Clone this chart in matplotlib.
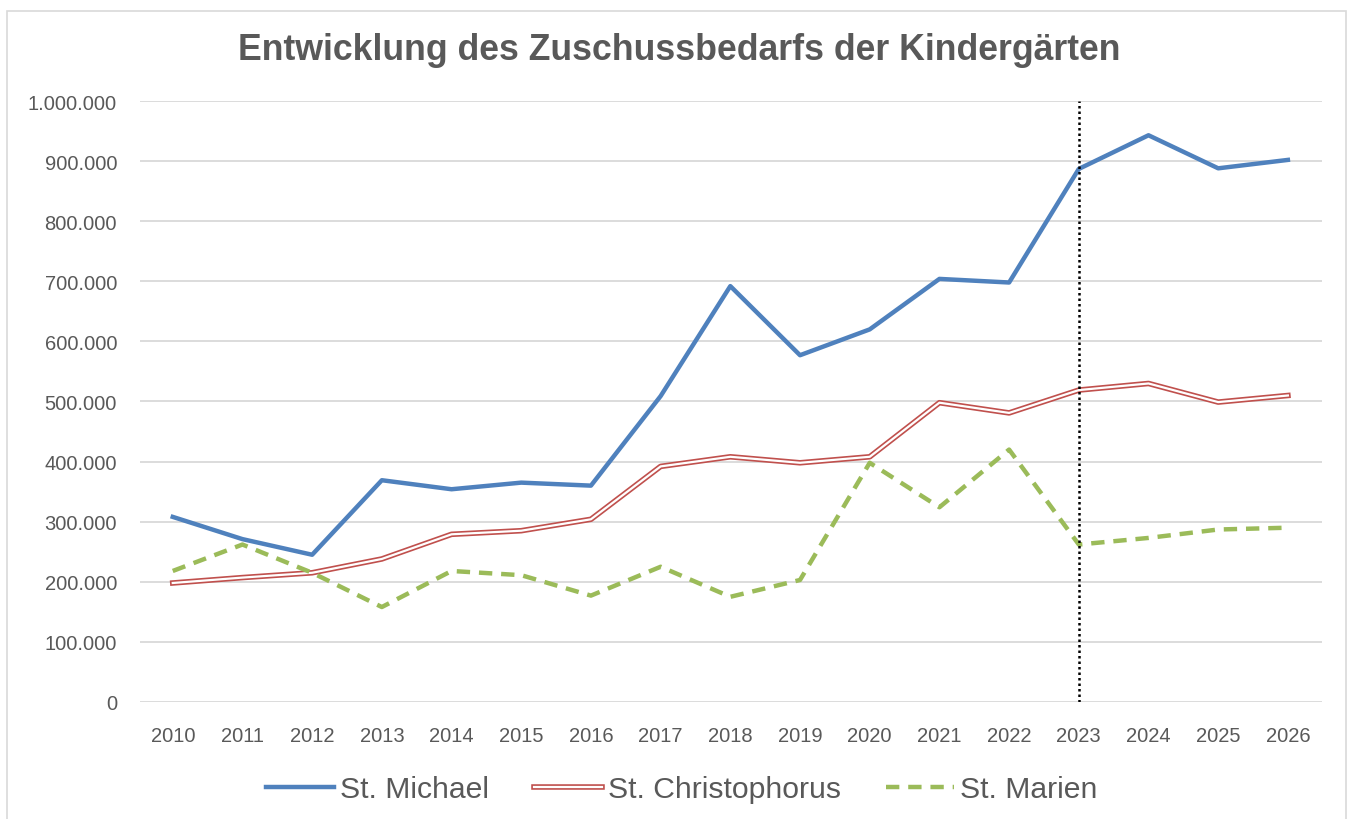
import numpy as np
import matplotlib.pyplot as plt
from matplotlib.patches import Rectangle
import matplotlib.patheffects as pe

plt.rcParams['font.family'] = ['Liberation Sans', 'DejaVu Sans']

years = list(range(2010, 2027))
michael = [308000, 271000, 245000, 369000, 354000, 365000, 360000, 509000, 692000,
           577000, 620000, 704000, 698000, 887000, 943000, 888000, 902000]
christophorus = [198000, 207000, 215000, 238000, 279000, 285000, 304000, 392000, 408000,
                 398000, 408000, 498000, 481000, 519000, 530000, 499000, 510000]
marien = [218000, 262000, 215000, 158000, 218000, 211000, 177000, 225000, 175000,
          203000, 398000, 324000, 420000, 262000, 273000, 287000, 290000]
labels = ['St. Michael', 'St. Christophorus', 'St. Marien']
title = 'Entwicklung des Zuschussbedarfs der Kindergärten'
grey = '#595959'

fig = plt.figure(figsize=(13.54, 8.2), dpi=100)
ax = fig.add_axes([0.1034, 0.1427, 0.873, 0.7329])

# rahmen um das diagramm
fig.patches.append(Rectangle((0.005, -0.01), 0.989, 0.995, transform=fig.transFigure,
                             fill=False, edgecolor='#D9D9D9', lw=1.2))

ax.plot(years, michael, color='#4F81BD', lw=3.2, label=labels[0], zorder=3)
# doppellinie: rot dick, weiss duenn darueber
ax.plot(years, christophorus, color='#C0504D', lw=4.0, label=labels[1], zorder=3,
        path_effects=[pe.Stroke(linewidth=4.0, foreground='#C0504D'),
                      pe.Stroke(linewidth=1.6, foreground='white')])
ax.plot(years, marien, color='#9BBB59', lw=3.2, ls=(0, (3, 2)), label=labels[2], zorder=3)
ax.vlines(2023, 0, 1000000, colors='black', linestyles=(0, (1, 1.2)), lw=1.8, zorder=4)

ax.set_xlim(2009.53, 2026.49)
ax.set_ylim(0, 1000000)
ax.set_xticks(years)
ax.set_yticks(np.arange(0, 1000001, 100000))
ax.set_yticklabels(['0'] + [f'{v:,}'.replace(',', '.') for v in range(100000, 1000001, 100000)])
ax.tick_params(length=0, labelsize=14.5, colors=grey)
ax.tick_params(axis='y', pad=16.5)
ax.tick_params(axis='x', pad=17)
ax.grid(axis='y', color='#D9D9D9', lw=1.3)
ax.set_axisbelow(True)
for s in ax.spines.values():
    s.set_visible(False)

fig.text(0.502, 0.939, title, ha='center', va='center', fontsize=25.7,
         fontweight='bold', color=grey)

leg = fig.legend(*ax.get_legend_handles_labels(), loc='center',
                 bbox_to_anchor=(682 / 1354, 0.036), ncol=3, frameon=False,
                 fontsize=21.7, handlelength=2.25, columnspacing=1.5, handletextpad=0.2)
for t in leg.get_texts():
    t.set_color(grey)

fig.savefig('out.png', dpi=100)
